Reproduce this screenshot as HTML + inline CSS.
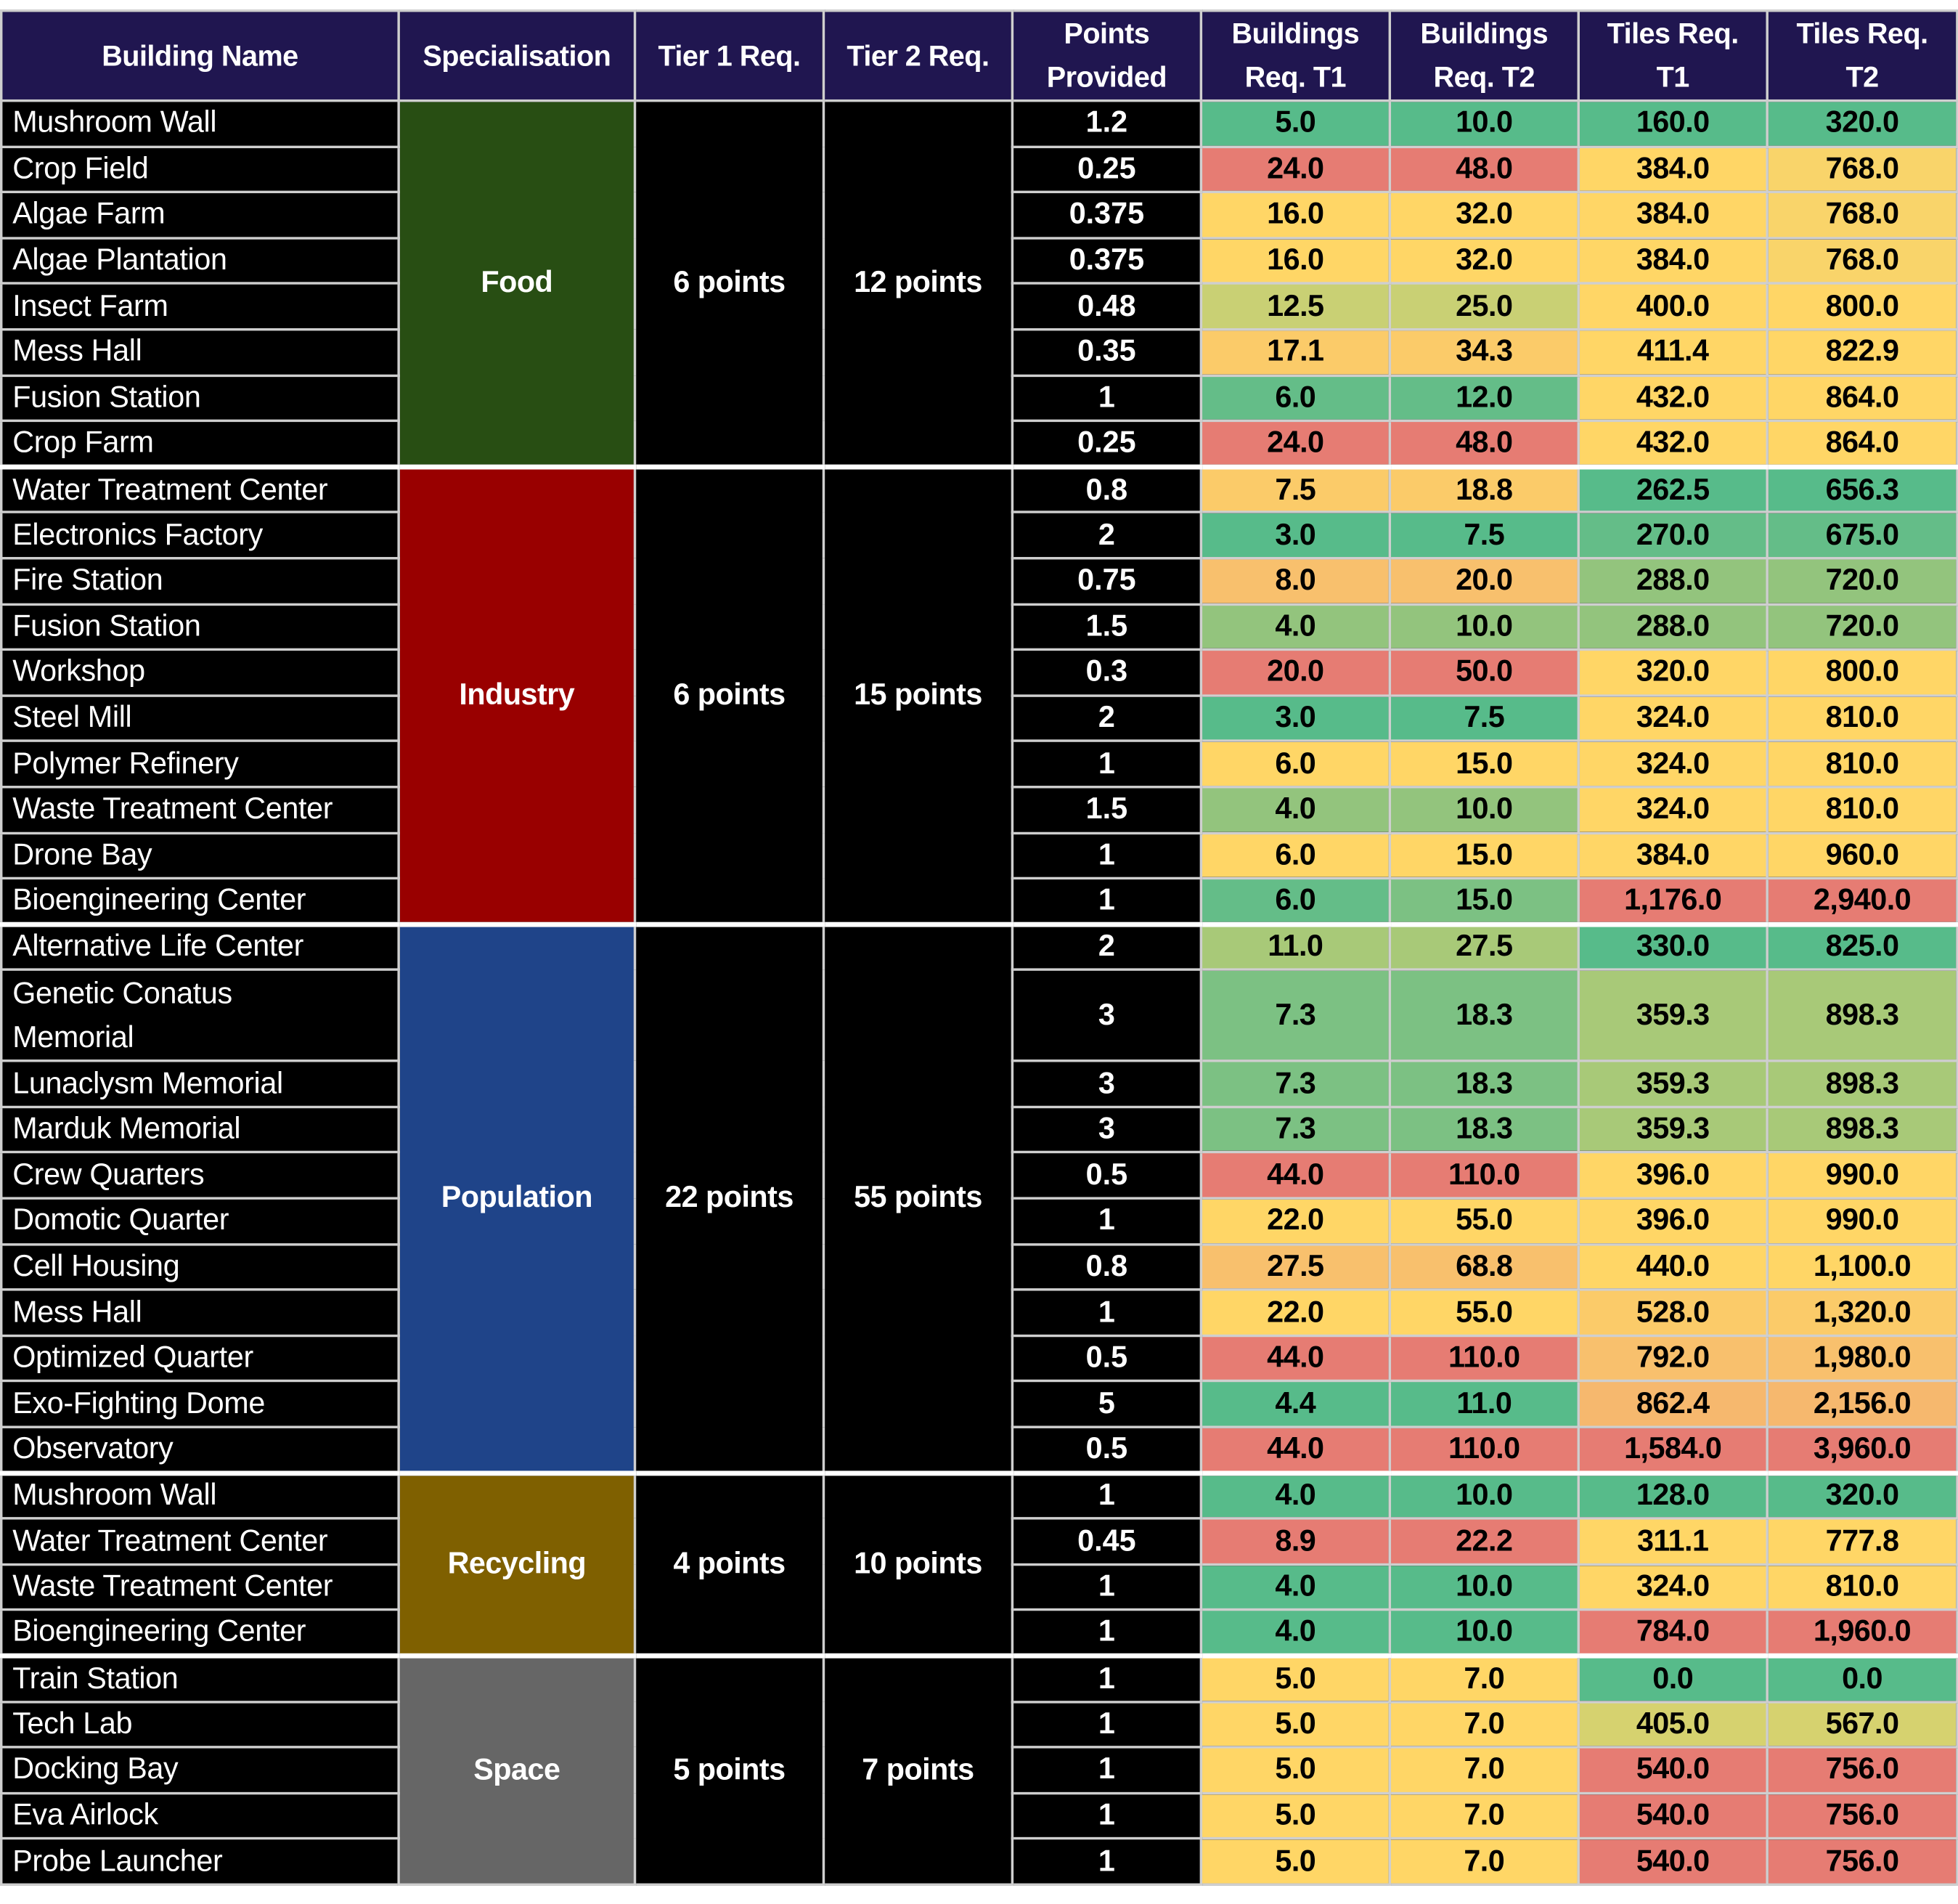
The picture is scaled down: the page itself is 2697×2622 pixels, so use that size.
<!DOCTYPE html>
<html><head><meta charset="utf-8"><style>
html,body{margin:0;padding:0;background:#fff;}
body{width:2697px;height:2622px;overflow:hidden;position:relative;}
#w{position:absolute;left:0px;top:13px;transform:scale(1.7215);transform-origin:0 0;}
table{border-collapse:collapse;table-layout:fixed;width:1565px;background:#000;border:2px solid #111;font-family:"Liberation Sans",sans-serif;}
td,th{border:2px solid #cfcfcf;padding:0;overflow:hidden;white-space:nowrap;}
th{background:#201650;color:#fff;font-weight:bold;font-size:23px;line-height:35px;height:70px;letter-spacing:-0.3px;}
tr.r{height:36.6px;}
td.n{color:#fff;font-size:24px;padding-left:8px;letter-spacing:-0.2px;text-align:left;}
td.c{color:#fff;font-weight:bold;font-size:24px;text-align:center;letter-spacing:-0.3px;}
td.v{color:#000;font-weight:bold;font-size:24px;text-align:center;letter-spacing:-0.3px;}
td.p{background:#000;color:#fff;font-weight:bold;font-size:24px;text-align:center;}
tr.g td{border-top:4px solid #fff;}
.G{background:#57bb8a}.G2{background:#64bd88}.G3{background:#7cc183}.LG{background:#93c47d}.YG{background:#a8c978}.YG2{background:#c9d074}.YG3{background:#d6d26f}
.Y{background:#ffd666}.Y2{background:#f9d46a}.O{background:#fbcb69}.O2{background:#f8c06d}.O3{background:#f6b86e}.R{background:#e67c73}
</style></head><body><div id="w">
<table>
<colgroup><col style="width:318px"><col style="width:189px"><col style="width:151px"><col style="width:151px"><col style="width:151px"><col style="width:151px"><col style="width:151px"><col style="width:151px"><col style="width:152px"></colgroup>
<tr><th>Building Name</th><th>Specialisation</th><th>Tier 1 Req.</th><th>Tier 2 Req.</th><th>Points<br>Provided</th><th>Buildings<br>Req. T1</th><th>Buildings<br>Req. T2</th><th>Tiles Req.<br>T1</th><th>Tiles Req.<br>T2</th></tr>

<tr class="r"><td class="n">Mushroom Wall</td><td class="c" rowspan="8" style="background:#284e13">Food</td><td class="c" rowspan="8">6 points</td><td class="c" rowspan="8">12 points</td><td class="p">1.2</td><td class="v G">5.0</td><td class="v G">10.0</td><td class="v G">160.0</td><td class="v G">320.0</td></tr>
<tr class="r"><td class="n">Crop Field</td><td class="p">0.25</td><td class="v R">24.0</td><td class="v R">48.0</td><td class="v Y">384.0</td><td class="v Y2">768.0</td></tr>
<tr class="r"><td class="n">Algae Farm</td><td class="p">0.375</td><td class="v Y">16.0</td><td class="v Y">32.0</td><td class="v Y">384.0</td><td class="v Y2">768.0</td></tr>
<tr class="r"><td class="n">Algae Plantation</td><td class="p">0.375</td><td class="v Y">16.0</td><td class="v Y">32.0</td><td class="v Y">384.0</td><td class="v Y2">768.0</td></tr>
<tr class="r"><td class="n">Insect Farm</td><td class="p">0.48</td><td class="v YG2">12.5</td><td class="v YG2">25.0</td><td class="v Y">400.0</td><td class="v Y">800.0</td></tr>
<tr class="r"><td class="n">Mess Hall</td><td class="p">0.35</td><td class="v O">17.1</td><td class="v O">34.3</td><td class="v Y">411.4</td><td class="v Y">822.9</td></tr>
<tr class="r"><td class="n">Fusion Station</td><td class="p">1</td><td class="v G2">6.0</td><td class="v G2">12.0</td><td class="v Y">432.0</td><td class="v Y">864.0</td></tr>
<tr class="r"><td class="n">Crop Farm</td><td class="p">0.25</td><td class="v R">24.0</td><td class="v R">48.0</td><td class="v Y">432.0</td><td class="v Y">864.0</td></tr>

<tr class="r g"><td class="n">Water Treatment Center</td><td class="c" rowspan="10" style="background:#990000">Industry</td><td class="c" rowspan="10">6 points</td><td class="c" rowspan="10">15 points</td><td class="p">0.8</td><td class="v O">7.5</td><td class="v O">18.8</td><td class="v G">262.5</td><td class="v G">656.3</td></tr>
<tr class="r"><td class="n">Electronics Factory</td><td class="p">2</td><td class="v G">3.0</td><td class="v G">7.5</td><td class="v G2">270.0</td><td class="v G2">675.0</td></tr>
<tr class="r"><td class="n">Fire Station</td><td class="p">0.75</td><td class="v O2">8.0</td><td class="v O2">20.0</td><td class="v LG">288.0</td><td class="v LG">720.0</td></tr>
<tr class="r"><td class="n">Fusion Station</td><td class="p">1.5</td><td class="v LG">4.0</td><td class="v LG">10.0</td><td class="v LG">288.0</td><td class="v LG">720.0</td></tr>
<tr class="r"><td class="n">Workshop</td><td class="p">0.3</td><td class="v R">20.0</td><td class="v R">50.0</td><td class="v Y">320.0</td><td class="v Y">800.0</td></tr>
<tr class="r"><td class="n">Steel Mill</td><td class="p">2</td><td class="v G">3.0</td><td class="v G">7.5</td><td class="v Y">324.0</td><td class="v Y">810.0</td></tr>
<tr class="r"><td class="n">Polymer Refinery</td><td class="p">1</td><td class="v Y">6.0</td><td class="v Y">15.0</td><td class="v Y">324.0</td><td class="v Y">810.0</td></tr>
<tr class="r"><td class="n">Waste Treatment Center</td><td class="p">1.5</td><td class="v LG">4.0</td><td class="v LG">10.0</td><td class="v Y">324.0</td><td class="v Y">810.0</td></tr>
<tr class="r"><td class="n">Drone Bay</td><td class="p">1</td><td class="v Y">6.0</td><td class="v Y">15.0</td><td class="v Y">384.0</td><td class="v Y">960.0</td></tr>
<tr class="r"><td class="n">Bioengineering Center</td><td class="p">1</td><td class="v G2">6.0</td><td class="v G3">15.0</td><td class="v R">1,176.0</td><td class="v R">2,940.0</td></tr>

<tr class="r g"><td class="n">Alternative Life Center</td><td class="c" rowspan="11" style="background:#1f4489">Population</td><td class="c" rowspan="11">22 points</td><td class="c" rowspan="11">55 points</td><td class="p">2</td><td class="v YG">11.0</td><td class="v YG">27.5</td><td class="v G">330.0</td><td class="v G">825.0</td></tr>
<tr style="height:73px"><td class="n" style="line-height:35px">Genetic Conatus<br>Memorial</td><td class="p">3</td><td class="v G3">7.3</td><td class="v G3">18.3</td><td class="v YG">359.3</td><td class="v YG">898.3</td></tr>
<tr class="r"><td class="n">Lunaclysm Memorial</td><td class="p">3</td><td class="v G3">7.3</td><td class="v G3">18.3</td><td class="v YG">359.3</td><td class="v YG">898.3</td></tr>
<tr class="r"><td class="n">Marduk Memorial</td><td class="p">3</td><td class="v G3">7.3</td><td class="v G3">18.3</td><td class="v YG">359.3</td><td class="v YG">898.3</td></tr>
<tr class="r"><td class="n">Crew Quarters</td><td class="p">0.5</td><td class="v R">44.0</td><td class="v R">110.0</td><td class="v Y">396.0</td><td class="v Y">990.0</td></tr>
<tr class="r"><td class="n">Domotic Quarter</td><td class="p">1</td><td class="v Y">22.0</td><td class="v Y">55.0</td><td class="v Y">396.0</td><td class="v Y">990.0</td></tr>
<tr class="r"><td class="n">Cell Housing</td><td class="p">0.8</td><td class="v O2">27.5</td><td class="v O2">68.8</td><td class="v Y">440.0</td><td class="v Y">1,100.0</td></tr>
<tr class="r"><td class="n">Mess Hall</td><td class="p">1</td><td class="v Y">22.0</td><td class="v Y">55.0</td><td class="v O">528.0</td><td class="v O">1,320.0</td></tr>
<tr class="r"><td class="n">Optimized Quarter</td><td class="p">0.5</td><td class="v R">44.0</td><td class="v R">110.0</td><td class="v O2">792.0</td><td class="v O2">1,980.0</td></tr>
<tr class="r"><td class="n">Exo-Fighting Dome</td><td class="p">5</td><td class="v G">4.4</td><td class="v G">11.0</td><td class="v O3">862.4</td><td class="v O3">2,156.0</td></tr>
<tr class="r"><td class="n">Observatory</td><td class="p">0.5</td><td class="v R">44.0</td><td class="v R">110.0</td><td class="v R">1,584.0</td><td class="v R">3,960.0</td></tr>

<tr class="r g"><td class="n">Mushroom Wall</td><td class="c" rowspan="4" style="background:#7f6000">Recycling</td><td class="c" rowspan="4">4 points</td><td class="c" rowspan="4">10 points</td><td class="p">1</td><td class="v G">4.0</td><td class="v G">10.0</td><td class="v G">128.0</td><td class="v G">320.0</td></tr>
<tr class="r"><td class="n">Water Treatment Center</td><td class="p">0.45</td><td class="v R">8.9</td><td class="v R">22.2</td><td class="v Y">311.1</td><td class="v Y">777.8</td></tr>
<tr class="r"><td class="n">Waste Treatment Center</td><td class="p">1</td><td class="v G">4.0</td><td class="v G">10.0</td><td class="v Y">324.0</td><td class="v Y">810.0</td></tr>
<tr class="r"><td class="n">Bioengineering Center</td><td class="p">1</td><td class="v G">4.0</td><td class="v G">10.0</td><td class="v R">784.0</td><td class="v R">1,960.0</td></tr>

<tr class="r g"><td class="n">Train Station</td><td class="c" rowspan="5" style="background:#666666">Space</td><td class="c" rowspan="5">5 points</td><td class="c" rowspan="5">7 points</td><td class="p">1</td><td class="v Y">5.0</td><td class="v Y">7.0</td><td class="v G">0.0</td><td class="v G">0.0</td></tr>
<tr class="r"><td class="n">Tech Lab</td><td class="p">1</td><td class="v Y">5.0</td><td class="v Y">7.0</td><td class="v YG3">405.0</td><td class="v YG3">567.0</td></tr>
<tr class="r"><td class="n">Docking Bay</td><td class="p">1</td><td class="v Y">5.0</td><td class="v Y">7.0</td><td class="v R">540.0</td><td class="v R">756.0</td></tr>
<tr class="r"><td class="n">Eva Airlock</td><td class="p">1</td><td class="v Y">5.0</td><td class="v Y">7.0</td><td class="v R">540.0</td><td class="v R">756.0</td></tr>
<tr class="r"><td class="n">Probe Launcher</td><td class="p">1</td><td class="v Y">5.0</td><td class="v Y">7.0</td><td class="v R">540.0</td><td class="v R">756.0</td></tr>
</table>
</div></body></html>
